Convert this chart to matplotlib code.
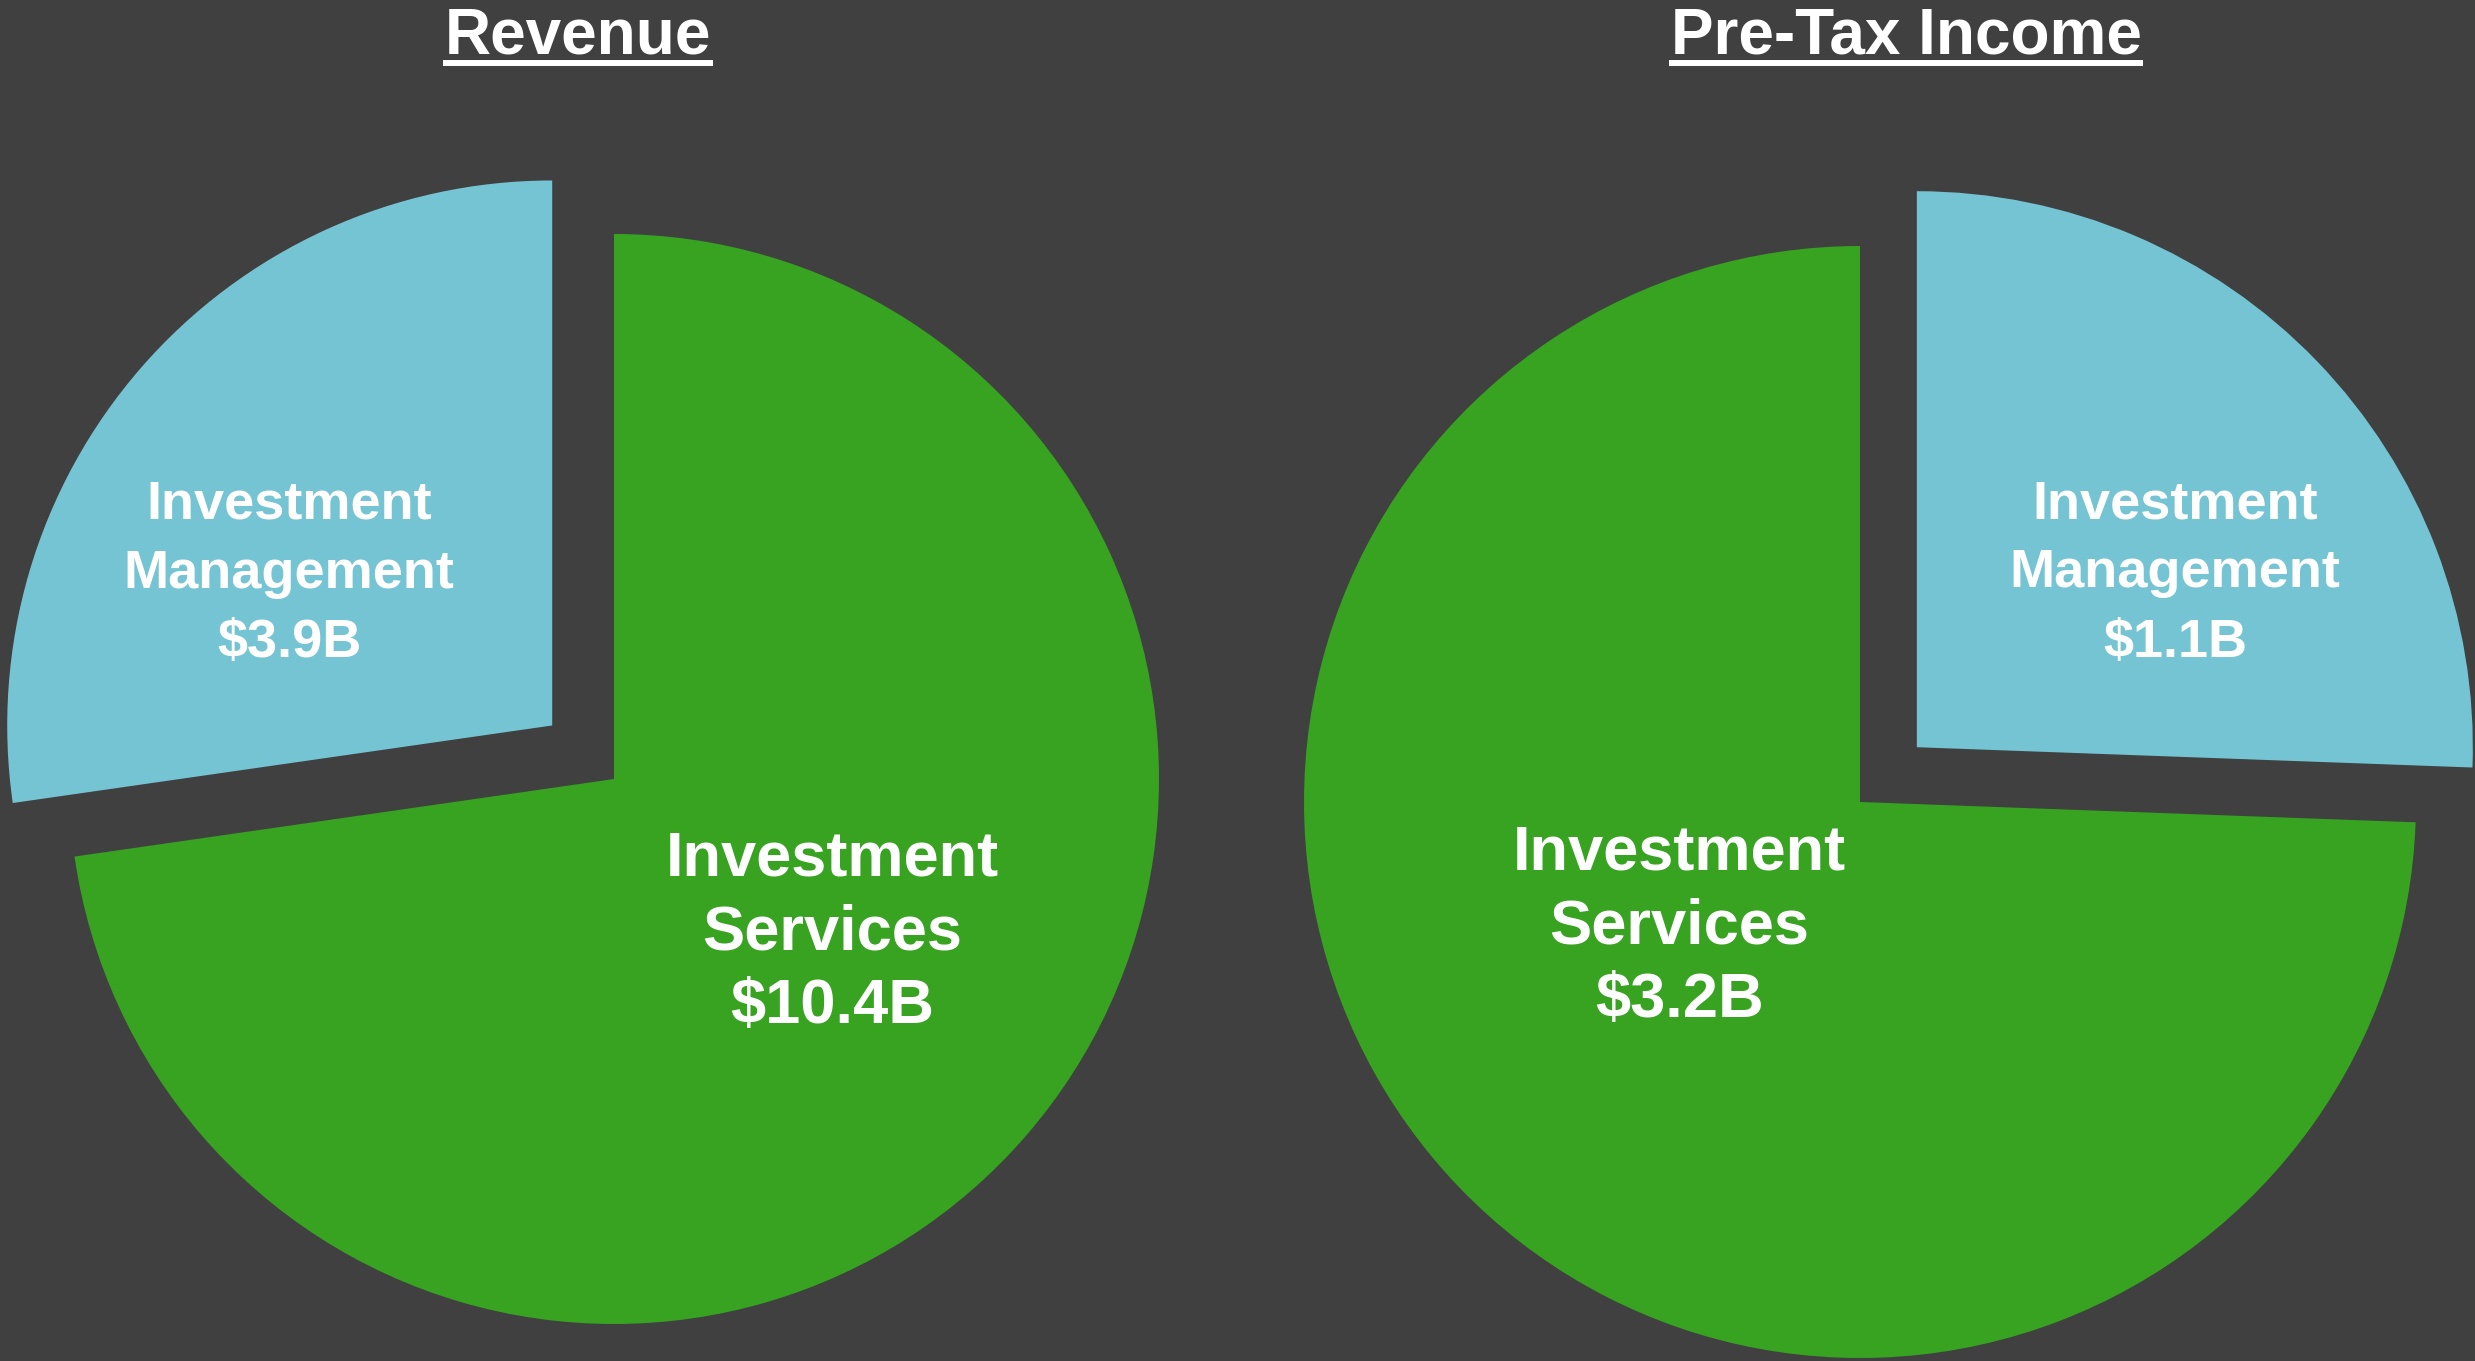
import matplotlib
matplotlib.use("Agg")
import matplotlib.pyplot as plt
from matplotlib.lines import Line2D

# data
segments = ["Investment\nServices", "Investment\nManagement"]
revenue = [10.4, 3.9]          # $B
pretax = [3.2, 1.1]            # $B
titles = ["Revenue", "Pre-Tax Income"]

BG = "#404040"
GREEN = "#37A321"
BLUE = "#75C4D4"
W, H = 2475, 1361

plt.rcParams["font.family"] = ["Liberation Sans", "DejaVu Sans"]
fig = plt.figure(figsize=(W / 100, H / 100), dpi=100, facecolor=BG)


def pie_axes(cx, cy, r, pad=1.3):
    # axes where (0,0) sits at pixel (cx, cy from top) and 1 data unit = r px
    ax = fig.add_axes([(cx - pad * r) / W, (H - cy - pad * r) / H,
                       2 * pad * r / W, 2 * pad * r / H])
    return ax


def label(ax, x, y, name, val, size, ls):
    ax.text(x, y, f"{name}\n${val}B", ha="center", va="center", color="white",
            fontsize=size, fontweight="bold", linespacing=ls)


# Revenue pie: services first, clockwise from 12 o'clock
ax1 = pie_axes(614, 779, 545)
ax1.pie(revenue, colors=[GREEN, BLUE], startangle=90, counterclock=False,
        explode=[0, 0.15], radius=1, frame=True,
        wedgeprops=dict(linewidth=0))
ax1.set_xlim(-1.3, 1.3); ax1.set_ylim(-1.3, 1.3); ax1.axis("off")
label(ax1, -0.596, 0.377, segments[1], revenue[1], 39, 1.49)
label(ax1, 0.40, -0.282, segments[0], revenue[0], 45.5, 1.32)

# Pre-tax pie: management first, clockwise from 12 o'clock
ax2 = pie_axes(1860, 802, 556)
ax2.pie(pretax[::-1], colors=[BLUE, GREEN], startangle=90, counterclock=False,
        explode=[0.142, 0], radius=1, frame=True,
        wedgeprops=dict(linewidth=0))
ax2.set_xlim(-1.3, 1.3); ax2.set_ylim(-1.3, 1.3); ax2.axis("off")
label(ax2, 0.567, 0.411, segments[1], pretax[1], 39, 1.49)
label(ax2, -0.325, -0.225, segments[0], pretax[0], 45.5, 1.32)

# underlined titles
renderer = fig.canvas.get_renderer()
for t, xc in zip(titles, [578, 1906]):
    txt = fig.text(xc / W, 1 - 54 / H, t, ha="center", va="baseline",
                   color="white", fontsize=46, fontweight="bold")
    bb = txt.get_window_extent(renderer)
    yl = 1 - 63 / H
    fig.add_artist(Line2D([(bb.x0 - 2) / W, (bb.x1 + 2) / W], [yl, yl],
                          transform=fig.transFigure, color="white", lw=4.3,
                          solid_capstyle="butt"))

fig.savefig("out.png", dpi=100, facecolor=BG)
